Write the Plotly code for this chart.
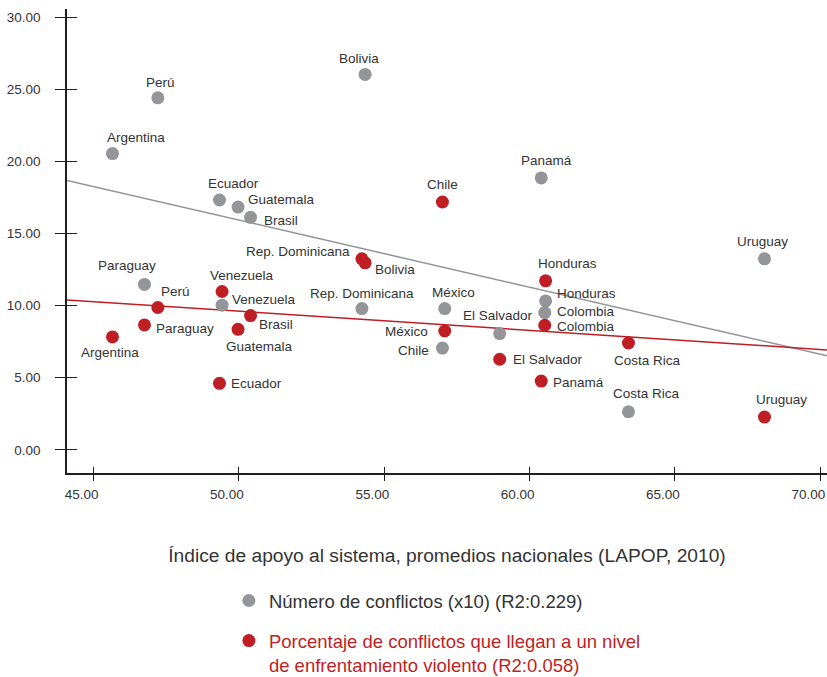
import numpy as np
import plotly.graph_objects as go

# ---------------- data ----------------
countries = ["Argentina", "Bolivia", "Brasil", "Chile", "Colombia", "Costa Rica",
             "Ecuador", "El Salvador", "Guatemala", "Honduras", "México", "Panamá",
             "Paraguay", "Perú", "Rep. Dominicana", "Uruguay", "Venezuela"]
apoyo = [45.65, 54.34, 50.40, 57.00, 60.52, 63.40,
         49.33, 58.97, 49.97, 60.55, 57.08, 60.40,
         46.75, 47.21, 54.23, 68.08, 49.42]
conflictos_x10 = [20.55, 26.04, 16.13, 7.06, 9.52, 2.64,
                  17.33, 8.06, 16.84, 10.33, 9.80, 18.86,
                  11.47, 24.42, 9.80, 13.25, 10.03]
pct_violentos = [7.83, 12.97, 9.31, 17.19, 8.64, 7.41,
                 4.61, 6.28, 8.36, 11.72, 8.24, 4.77,
                 8.66, 9.87, 13.25, 2.27, 10.98]

x_ticks = [45, 50, 55, 60, 65, 70]
y_ticks = [0, 5, 10, 15, 20, 25, 30]
x_range = [44.085, 70.23]
y_range = [-1.61, 30.58]

name_gray = "Número de conflictos (x10) (R2:0.229)"
name_red = "Porcentaje de conflictos que llegan a un nivel<br>de enfrentamiento violento (R2:0.058)"
x_title = "Índice de apoyo al sistema, promedios nacionales (LAPOP, 2010)"

# ---------------- styles ----------------
GRAY = "#939598"
RED = "#bf1e24"
TXT = "#333333"
AX = "#231f20"
FONT = "Liberation Sans, Arial, Helvetica, sans-serif"

# label placement per country: (xanchor, dx px, dy px downwards)
lab_gray = [("center", 24, -16), ("center", -6, -16), ("left", 11, 3), ("right", -11, 2),
            ("left", 10, -1), ("center", 18, -18), ("center", 14, -16), ("center", -2, -18),
            ("left", 8, -7.5), ("left", 9, -7.7), ("center", 8.5, -16), ("center", 5.7, -17),
            ("center", -17.7, -18.5), ("center", 2.5, -15), ("center", 0, -15),
            ("center", -2.3, -17.5), ("left", 8, -6)]
lab_red = [("center", -2.7, 16), ("left", 7.5, 7), ("left", 6.5, 9), ("center", 0, -17.5),
           ("left", 10, 1.3), ("center", 19.3, 17.5), ("left", 10, 0), ("left", 11, 0),
           ("center", 21.3, 17.5), ("center", 22.3, -17), ("right", -14.5, 0), ("left", 10, 1.5),
           ("left", 10, 3.5), ("left", 1.5, -16), ("right", -10, -7), ("center", 17, -17.5),
           ("center", 19.8, -16)]

fig = go.Figure()

# trend lines (OLS fits)
xl = np.array(x_range)
for yv, col in [(conflictos_x10, GRAY), (pct_violentos, RED)]:
    b, a = np.polyfit(apoyo, yv, 1)
    fig.add_trace(go.Scatter(x=xl, y=a + b * xl, mode="lines", showlegend=False,
                             line=dict(color=col, width=1.5), hoverinfo="skip"))

fig.add_trace(go.Scatter(x=apoyo, y=conflictos_x10, mode="markers", name=name_gray,
                         legendgroup="g", marker=dict(color=GRAY, size=13),
                         text=countries))
fig.add_trace(go.Scatter(x=apoyo, y=pct_violentos, mode="markers",
                         name=f"<span style='color:{RED}'>{name_red}</span>",
                         legendgroup="r", marker=dict(color=RED, size=13),
                         text=countries))
# helper trace to activate overlay axes (crossing ticks)
fig.add_trace(go.Scatter(x=[], y=[], xaxis="x2", yaxis="y2", showlegend=False))

annotations = []
for yv, labs in [(conflictos_x10, lab_gray), (pct_violentos, lab_red)]:
    for c, xv, v, (anc, dx, dy) in zip(countries, apoyo, yv, labs):
        annotations.append(dict(x=xv, y=v, xref="x", yref="y", text=c, showarrow=False,
                                xanchor=anc, yanchor="middle", xshift=dx, yshift=-dy,
                                font=dict(size=13.5, color=TXT, family=FONT)))

axis_common = dict(showgrid=False, zeroline=False)
fig.update_layout(
    width=827, height=677,
    margin=dict(l=67, r=0, t=9, b=204, autoexpand=False),
    paper_bgcolor="white", plot_bgcolor="white",
    font=dict(family=FONT, color=TXT),
    annotations=annotations,
    xaxis=dict(range=x_range, tickvals=x_ticks, tickformat=".2f", ticks="outside",
               ticklen=6, tickcolor=AX, tickwidth=1, showline=True, linecolor=AX,
               linewidth=1.5, ticklabelshift=-12, ticklabelstandoff=2,
               tickfont=dict(size=13.5, color=TXT),
               title=dict(text=x_title, font=dict(size=19.2, color=TXT), standoff=48),
               **axis_common),
    yaxis=dict(range=y_range, tickvals=y_ticks, tickformat=".2f", ticks="outside",
               ticklen=10, tickcolor=AX, tickwidth=1, showline=True, linecolor=AX,
               linewidth=1.5, ticklabelstandoff=12, tickfont=dict(size=13.5, color=TXT),
               **axis_common),
    xaxis2=dict(range=x_range, tickvals=x_ticks, ticks="inside", ticklen=6, tickcolor=AX,
                tickwidth=1, showticklabels=False, overlaying="x", anchor="y2",
                showline=False, **axis_common),
    yaxis2=dict(range=y_range, tickvals=y_ticks, ticks="inside", ticklen=10, tickcolor=AX,
                tickwidth=1, showticklabels=False, overlaying="y", anchor="x2", side="left",
                showline=False, **axis_common),
    legend=dict(x=0.213, xanchor="left", y=-0.4547, yanchor="bottom", valign="top",
                tracegroupgap=13, font=dict(size=18.5, color=TXT, family=FONT),
                bgcolor="rgba(0,0,0,0)"),
    showlegend=True,
)

fig.write_html("out.html", config={"displayModeBar": False},
               post_script="document.body.style.margin='0';")
